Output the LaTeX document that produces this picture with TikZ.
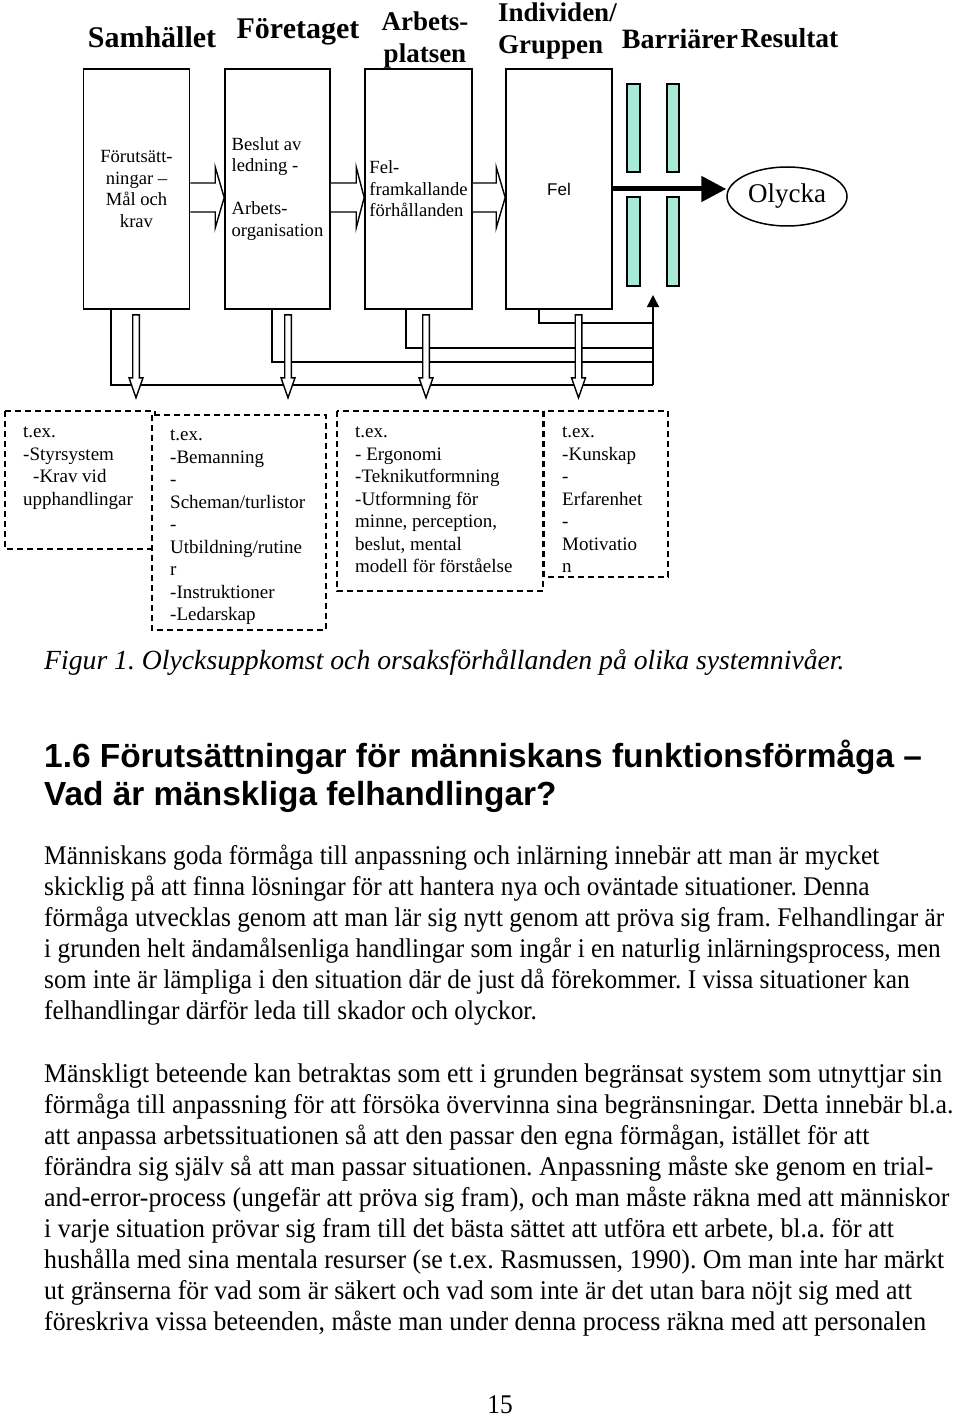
\documentclass[tikz,border=0pt]{standalone}
\usepackage{fontspec}
\setmainfont{Liberation Serif}
\setsansfont{Liberation Sans}
\newfontfamily\bodyfont{Liberation Serif}[FakeStretch=0.94]
\newfontfamily\bodyfontwide{Liberation Serif}[FakeStretch=0.958]
\usetikzlibrary{arrows.meta,shapes.geometric,calc}
\definecolor{mint}{HTML}{A6EAD7}
\frenchspacing

\begin{document}
\begin{tikzpicture}[x=1pt,y=-1pt,
  level/.style={draw, line width=1.6pt, minimum width=106pt, minimum height=240pt, inner sep=0pt, font=\fontsize{18.6}{21.5}\selectfont},
  head/.style={inner sep=0pt, font=\fontsize{30}{32}\selectfont\bfseries},
  hollow/.style={draw, line width=1.4pt, fill=white, line join=miter},
  feed/.style={draw, line width=1.5pt},
  barrier/.style={draw, line width=1.2pt, fill=mint},
  dashbox/.style={draw, line width=1.5pt, dash pattern=on 6pt off 4pt, fill=white},
  boxtext/.style={anchor=north west, align=left, inner sep=0pt, font=\fontsize{19}{22.5}\selectfont},
  body/.style={anchor=north west, align=left, inner sep=0pt, font=\bodyfont\fontsize{27}{31}\selectfont}]
  \useasboundingbox (0,0) rectangle (960,1420);

  \node[head] (hsamh) at (152,37) {Samhället};
  \node[head] (hforet) at (298,32) {Företaget};
  \node[head, align=center, font=\fontsize{27}{32}\selectfont\bfseries] (harb) at (425,40) {Arbets-\\platsen};
  \node[head, align=left, anchor=west, font=\fontsize{27}{32}\selectfont\bfseries] (hind) at (498,31) {Individen/\\Gruppen};
  \node[head, font=\fontsize{28}{32}\selectfont\bfseries] (hbarr) at (680,39) {Barriärer};
  \node[head, font=\fontsize{27.5}{32}\selectfont\bfseries] (hres) at (789.5,38) {Resultat};

  \node[level, align=center] (samh) at (136.5,189) {Förutsätt-\\ningar –\\Mål och\\krav};
  \node[level, align=left, minimum width=105pt] (foret) at (277.5,189) {Beslut av\\ledning -\\\mbox{}\\Arbets-\\organisation};
  \node[level, align=left, minimum width=107pt] (arb) at (418.5,189) {Fel-\\framkallande\\förhållanden};
  \node[level, font=\sffamily\fontsize{17}{20}\selectfont] (ind) at (559,189) {Fel};
  \node[draw, ellipse, line width=1.5pt, minimum width=120pt, minimum height=59pt, inner sep=0pt, font=\fontsize{27}{30}\selectfont] (olycka) at (787,196.5) {Olycka};

  \draw[barrier] (627,84) rectangle (640,172);
  \draw[barrier] (667,84) rectangle (679,172);
  \draw[barrier] (627,197) rectangle (640,286);
  \draw[barrier] (667,197) rectangle (679,286);

  \coordinate (gap) at (653,295);
  \draw[feed] (samh.south -| 111,0) |- (gap |- 0,385);
  \draw[feed] (foret.south -| 272,0) |- (gap |- 0,362);
  \draw[feed] (arb.south -| 406,0) |- (gap |- 0,348);
  \draw[feed] (ind.south -| 539,0) |- (gap |- 0,323);
  \draw[feed, -{Triangle[width=12pt,length=12pt]}] (gap |- 0,385) -- (gap);

  \draw[hollow] (samh.east |- 0,183) -- ($(foret.west |- 0,183)+(-9,0)$) -- ++(0,-16) -- (foret.west |- 0,197.5) -- ++(-9,30.5) -- ++(0,-16) -- (samh.east |- 0,212);
  \draw[hollow] (foret.east |- 0,183) -- ($(arb.west |- 0,183)+(-8,0)$) -- ++(0,-16) -- (arb.west |- 0,197.5) -- ++(-8,30.5) -- ++(0,-16) -- (foret.east |- 0,212);
  \draw[hollow] (arb.east |- 0,183) -- ($(ind.west |- 0,183)+(-9,0)$) -- ++(0,-16) -- (ind.west |- 0,197.5) -- ++(-9,30.5) -- ++(0,-16) -- (arb.east |- 0,212);

  \draw[hollow] ([xshift=-3.8pt,yshift=-5pt]samh.south) -- ++(0,63) -- ++(-3.7,0) -- ++(7,20) -- ++(7,-20) -- ++(-3.7,0) -- ++(0,-63) -- cycle;
  \draw[hollow] ([xshift=7.2pt,yshift=-5pt]foret.south) -- ++(0,63) -- ++(-3.7,0) -- ++(7,20) -- ++(7,-20) -- ++(-3.7,0) -- ++(0,-63) -- cycle;
  \draw[hollow] ([xshift=4.2pt,yshift=-5pt]arb.south) -- ++(0,63) -- ++(-3.7,0) -- ++(7,20) -- ++(7,-20) -- ++(-3.7,0) -- ++(0,-63) -- cycle;
  \draw[hollow] ([xshift=16.2pt,yshift=-5pt]ind.south) -- ++(0,63) -- ++(-3.7,0) -- ++(7,20) -- ++(7,-20) -- ++(-3.7,0) -- ++(0,-63) -- cycle;

  \draw[line width=5pt, -{Triangle[width=25pt,length=25pt]}] (ind.east |- 0,189) -- (olycka.west |- 0,189);

  \draw[dashbox] (5,411) rectangle (155,549);
  \draw[dashbox] (152,415) rectangle (326,630);
  \draw[dashbox] (337,411) rectangle (543,591);
  \draw[dashbox] (544,411) rectangle (668,577);
  \node[boxtext] (exsamh) at (23,427) {t.ex.\\-Styrsystem\\\hspace*{10pt}-Krav vid\\upphandlingar};
  \node[boxtext] (exforet) at (170,430) {t.ex.\\-Bemanning\\-\\Scheman/turlistor\\-\\Utbildning/rutine\\r\\-Instruktioner\\-Ledarskap};
  \node[boxtext] (exarb) at (355,427) {t.ex.\\- Ergonomi\\-Teknikutformning\\-Utformning för\\minne, perception,\\beslut, mental\\modell för förståelse};
  \node[boxtext] (exind) at (562,427) {t.ex.\\-Kunskap\\-\\Erfarenhet\\-\\Motivatio\\n};

  \node[body, font=\itshape\fontsize{27.7}{31}\selectfont] (caption) at (44,649) {Figur 1. Olycksuppkomst och orsaksförhållanden på olika systemnivåer.};
  \node[body, font=\sffamily\bfseries\fontsize{33.4}{38}\selectfont] (rubrik) at (44,740) {1.6 Förutsättningar för människans funktionsförmåga –\\Vad är mänskliga felhandlingar?};
  \node[body] (stycke1) at (44,845) {Människans goda förmåga till anpassning och inlärning innebär att man är mycket\\skicklig på att finna lösningar för att hantera nya och oväntade situationer. Denna\\förmåga utvecklas genom att man lär sig nytt genom att pröva sig fram. Felhandlingar är\\i grunden helt ändamålsenliga handlingar som ingår i en naturlig inlärningsprocess, men\\som inte är lämpliga i den situation där de just då förekommer. I vissa situationer kan\\felhandlingar därför leda till skador och olyckor.};
  \node[body, font=\bodyfontwide\fontsize{27}{31}\selectfont] (stycke2) at (44,1064) {Mänskligt beteende kan betraktas som ett i grunden begränsat system som utnyttjar sin\\förmåga till anpassning för att försöka övervinna sina begränsningar. Detta innebär bl.a.\\att anpassa arbetssituationen så att den passar den egna förmågan, istället för att\\förändra sig själv så att man passar situationen. Anpassning måste ske genom en trial-\\and-error-process (ungefär att pröva sig fram), och man måste räkna med att människor\\i varje situation prövar sig fram till det bästa sättet att utföra ett arbete, bl.a. för att\\hushålla med sina mentala resurser (se t.ex. Rasmussen, 1990). Om man inte har märkt\\ut gränserna för vad som är säkert och vad som inte är det utan bara nöjt sig med att\\föreskriva vissa beteenden, måste man under denna process räkna med att personalen};
  \node[body, anchor=center] (sida) at (500,1405) {15};
\end{tikzpicture}
\end{document}
